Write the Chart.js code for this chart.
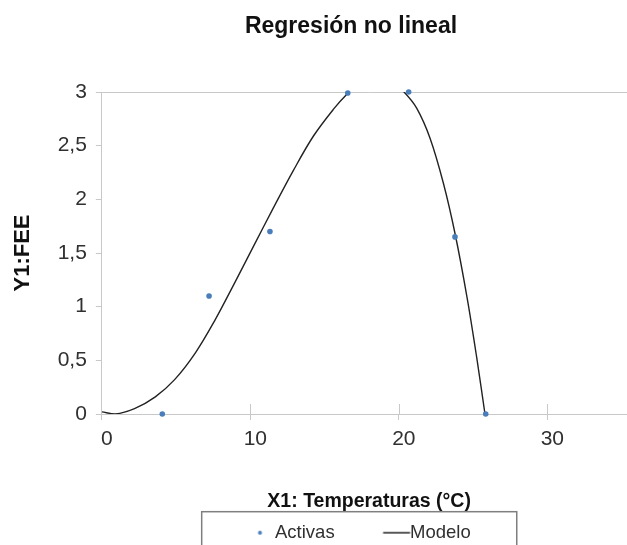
<!DOCTYPE html>
<html>
<head>
<meta charset="utf-8">
<script src="https://cdn.jsdelivr.net/npm/chart.js@4/dist/chart.umd.min.js"></script>
<style>
html,body{margin:0;padding:0;overflow:hidden;background:#ffffff}
canvas{display:block}
</style>
</head>
<body>
<canvas id="c" width="702" height="552"></canvas>
<script>
// ---- data ----
const chartTitle = 'Regresión no lineal';
const xAxisTitle = 'X1: Temperaturas (°C)';
const yAxisTitle = 'Y1:FEE';
const seriesNames = ['Activas', 'Modelo'];

const activasX = [4.07, 7.22, 11.32, 16.56, 20.66, 23.78, 25.85];
const activasY = [0, 1.10, 1.70, 2.99, 3.00, 1.65, 0];

const modeloX = [0, 0.9, 2.2, 3.6, 4.9, 6.3, 7.6, 8.9, 10.2, 11.55, 12.9, 14.25, 15.6, 16.5, 17.5, 18.5, 19.5, 20.35, 21.2, 22.1, 23.0, 23.8, 24.6, 25.25, 25.8];
const modeloY = [0.02, 0.0, 0.05, 0.16, 0.32, 0.57, 0.87, 1.21, 1.56, 1.92, 2.27, 2.59, 2.84, 2.98, 3.10, 3.15, 3.10, 3.00, 2.85, 2.57, 2.15, 1.67, 1.08, 0.52, 0.0];

const xTickValues = [0, 10, 20, 30];
const xTickLabels = ['0', '10', '20', '30'];
const yTickValues = [0, 0.5, 1, 1.5, 2, 2.5, 3];
const yTickLabels = ['0', '0,5', '1', '1,5', '2', '2,5', '3'];

// ---- styling ----
const FONT = "'Liberation Sans', Arial, sans-serif";
const COL_PTS = '#4a7ebb';
const COL_LINE = '#222222';
const COL_GRID = '#c8c8c8';
const COL_TEXT = '#303030';

Chart.defaults.font.family = FONT;
Chart.defaults.color = COL_TEXT;

function legendDot() {
  const c = document.createElement('canvas');
  c.width = 60; c.height = 10;
  const g = c.getContext('2d');
  g.fillStyle = COL_PTS;
  g.beginPath(); g.arc(41.5, 5, 2, 0, Math.PI * 2); g.fill();
  return c;
}
function legendLine() {
  const c = document.createElement('canvas');
  c.width = 60; c.height = 10;
  const g = c.getContext('2d');
  g.strokeStyle = COL_LINE; g.lineWidth = 1.5;
  g.beginPath(); g.moveTo(29.5, 5); g.lineTo(56.5, 5); g.stroke();
  return c;
}
const legendStyles = [legendDot(), legendLine()];

const decor = {
  id: 'decor',
  beforeDatasetsDraw(chart) {
    const xs = chart.scales.x, ca = chart.chartArea, ctx = chart.ctx;
    ctx.save();
    ctx.strokeStyle = COL_GRID; ctx.lineWidth = 1;
    xs.ticks.forEach(t => {
      if (t.value === 0) return;
      const px = Math.round(xs.getPixelForValue(t.value)) + 0.5;
      ctx.beginPath(); ctx.moveTo(px, ca.bottom - 10); ctx.lineTo(px, ca.bottom); ctx.stroke();
    });
    ctx.restore();
  },
  afterDraw(chart) {
    const hb = chart.legend.legendHitBoxes;
    if (!hb || hb.length < 2) return;
    const ctx = chart.ctx;
    const left = hb[0].left - 29.55;
    const right = hb[1].left + hb[1].width + 46;
    const top = hb[0].top - 11.8;
    ctx.save();
    ctx.strokeStyle = '#7f7f7f'; ctx.lineWidth = 1.5;
    ctx.strokeRect(left, top, right - left, 80);
    ctx.restore();
  }
};

new Chart(document.getElementById('c'), {
  type: 'scatter',
  data: {
    datasets: [
      {
        label: seriesNames[0],
        data: activasX.map((x, i) => ({x: x, y: activasY[i]})),
        backgroundColor: COL_PTS,
        borderColor: COL_PTS,
        pointRadius: 2.8,
        pointBorderWidth: 0,
        showLine: false,
        clip: false,
        xAxisID: 'x', yAxisID: 'y'
      },
      {
        label: seriesNames[1],
        data: modeloX.map((x, i) => ({x: x, y: modeloY[i]})),
        borderColor: COL_LINE,
        backgroundColor: COL_LINE,
        borderWidth: 1.4,
        pointRadius: 0,
        showLine: true,
        tension: 0.35,
        xAxisID: 'x', yAxisID: 'y'
      }
    ]
  },
  options: {
    responsive: false,
    animation: false,
    events: [],
    layout: { padding: 0 },
    plugins: {
      tooltip: { enabled: false },
      title: {
        display: true,
        text: chartTitle,
        color: '#111111',
        font: { family: FONT, size: 23, weight: 'bold' },
        padding: { top: 13.2, bottom: 51.2 }
      },
      legend: {
        display: true,
        position: 'bottom',
        labels: {
          usePointStyle: true,
          pointStyleWidth: 34.5,
          padding: 31.7,
          color: COL_TEXT,
          font: { family: FONT, size: 18.5 },
          generateLabels(chart) {
            const items = Chart.defaults.plugins.legend.labels.generateLabels(chart);
            items.forEach((it, i) => { it.pointStyle = legendStyles[i]; });
            return items;
          }
        }
      }
    },
    scales: {
      x: {
        type: 'linear',
        position: 'bottom',
        min: 0,
        max: 36,
        afterFit(s) { s.height = 77.8; },
        ticks: {
          stepSize: 10,
          includeBounds: false,
          padding: 6.9,
          labelOffset: 5,
          color: COL_TEXT,
          font: { family: FONT, size: 21 },
          callback(v) { const i = xTickValues.indexOf(v); return i >= 0 ? xTickLabels[i] : ''; }
        },
        grid: { drawOnChartArea: false, drawTicks: true, tickLength: 6, color: COL_GRID },
        border: { display: true, color: COL_GRID, width: 1 },
        title: {
          display: true,
          text: xAxisTitle,
          color: '#111111',
          font: { family: FONT, size: 19.5, weight: 'bold' },
          padding: { top: 0, bottom: -21.4 }
        }
      },
      y: {
        type: 'linear',
        position: 'left',
        min: 0,
        max: 3,
        afterFit(s) { s.width = 101.85; },
        ticks: {
          stepSize: 0.5,
          padding: 9,
          color: COL_TEXT,
          font: { family: FONT, size: 21 },
          callback(v) { const i = yTickValues.indexOf(v); return i >= 0 ? yTickLabels[i] : ''; }
        },
        grid: {
          drawOnChartArea: true,
          drawTicks: true,
          tickLength: 6,
          tickColor: COL_GRID,
          color(ctx) { const v = ctx.tick ? ctx.tick.value : null; return (v === 0 || v === 3) ? COL_GRID : 'rgba(0,0,0,0)'; }
        },
        border: { display: true, color: COL_GRID, width: 1 },
        title: {
          display: true,
          text: yAxisTitle,
          color: '#111111',
          font: { family: FONT, size: 22, weight: 'bold' },
          padding: { top: 10.1, bottom: 0 }
        }
      },
      yR: {
        type: 'linear',
        position: 'right',
        display: true,
        afterFit(s) { s.width = 65.55; },
        ticks: { display: false },
        grid: { display: false },
        border: { display: false }
      }
    }
  },
  plugins: [decor]
});
</script>
</body>
</html>
